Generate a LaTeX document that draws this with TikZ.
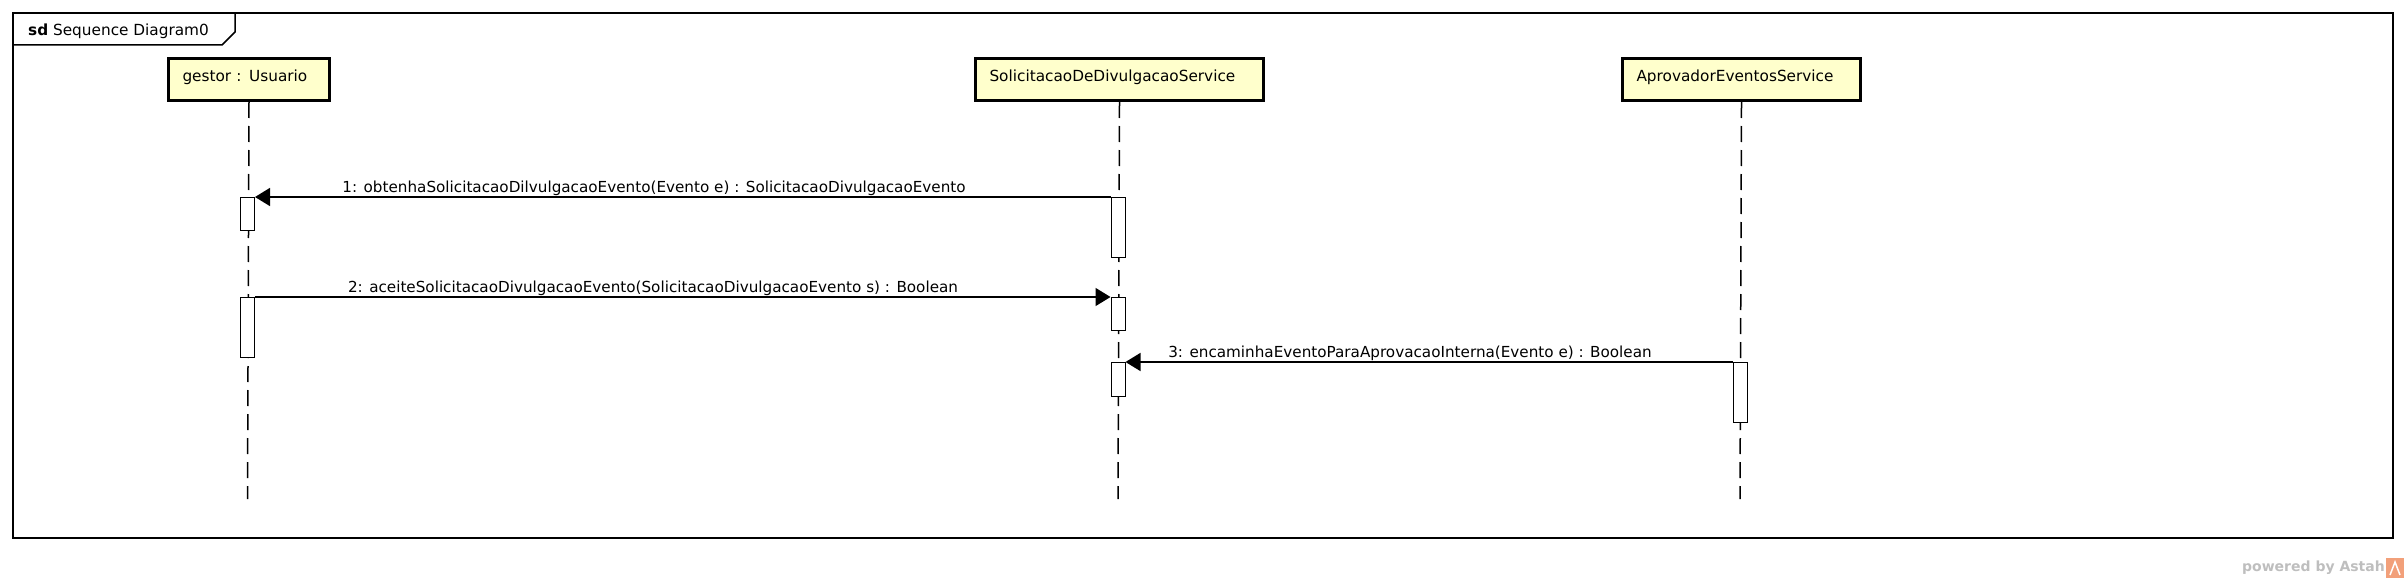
\documentclass[tikz,border=0pt]{standalone}
\usepackage{fontspec}
\setmainfont{DejaVu Sans}
\usetikzlibrary{arrows.meta}

\definecolor{headfill}{RGB}{255,255,204}
\definecolor{astahgray}{RGB}{190,190,190}
\definecolor{astahorange}{RGB}{242,160,122}

\begin{document}
\begin{tikzpicture}[x=1pt,y=-1pt,
    lifehead/.style={draw,line width=3pt,fill=headfill,anchor=north west,text height=23pt,text depth=19pt,
        inner xsep=14pt,inner ysep=0pt,align=left,font=\fontsize{15.3}{18}\selectfont},
    lifeline/.style={line width=1.5pt,dash pattern=on 16pt off 8pt},
    act/.style={draw,fill=white,line width=1pt,minimum width=14pt,inner sep=0pt,anchor=north},
    msg/.style={line width=1.5pt,-{Triangle[length=15pt,width=18pt]}},
    msglabel/.style={anchor=base,inner sep=0pt,font=\fontsize{15.2}{18}\selectfont}]
    \useasboundingbox (0,0) rectangle (2406,578);
    \draw[line width=1.5pt] (13,13) rectangle (2393,538);
    \draw[line width=1.5pt] (13,45) -- (222,45) -- (235,32) -- (235,13);
    \node[anchor=base west,inner sep=0pt,font=\fontsize{15.3}{18}\selectfont] (title) at (28,36) {\textbf{sd} Sequence Diagram0};

    \node[lifehead,text width=133pt] (gestor) at (167,57) {gestor : Usuario};
    \node[lifehead,text width=260pt] (servico) at (974,57) {SolicitacaoDeDivulgacaoService};
    \node[lifehead,text width=210pt] (aprovador) at (1621,57) {AprovadorEventosService};
    \coordinate (gestorEnd) at (247.5,499);
    \coordinate (servicoEnd) at (1118,499);
    \coordinate (aprovadorEnd) at (1740,499);
    \draw[lifeline] (gestor.south) -- (gestorEnd);
    \draw[lifeline] (servico.south) -- (servicoEnd);
    \draw[lifeline] (aprovador.south) -- (aprovadorEnd);

    \node[act,minimum height=33pt] (g1) at (247.5,197) {};
    \node[act,minimum height=60pt] (g2) at (247.5,297) {};
    \node[act,minimum height=60pt] (s1) at (1118,197) {};
    \node[act,minimum height=33pt] (s2) at (1118,297) {};
    \node[act,minimum height=34pt] (s3) at (1118,362) {};
    \node[act,minimum height=60pt] (p1) at (1740,362) {};

    \draw[msg] (s1.north west) -- (g1.north east);
    \draw[msg] (g2.north east) -- (s2.north west);
    \draw[msg] (p1.north west) -- (s3.north east);
    \node[msglabel] (m1) at (654,192) {1: obtenhaSolicitacaoDilvulgacaoEvento(Evento e) : SolicitacaoDivulgacaoEvento};
    \node[msglabel] (m2) at (653,292) {2: aceiteSolicitacaoDivulgacaoEvento(SolicitacaoDivulgacaoEvento s) : Boolean};
    \node[msglabel] (m3) at (1410,357) {3: encaminhaEventoParaAprovacaoInterna(Evento e) : Boolean};

    \node[anchor=base east,inner sep=0pt,text=astahgray,font=\bfseries\fontsize{14}{16}\selectfont] (powered) at (2385,571) {powered by Astah};
    \fill[astahorange] (2386,558) rectangle (2404,578);
    \draw[white,line width=1.5pt] (2390,575) -- (2395,562) -- (2400,575);
\end{tikzpicture}
\end{document}
